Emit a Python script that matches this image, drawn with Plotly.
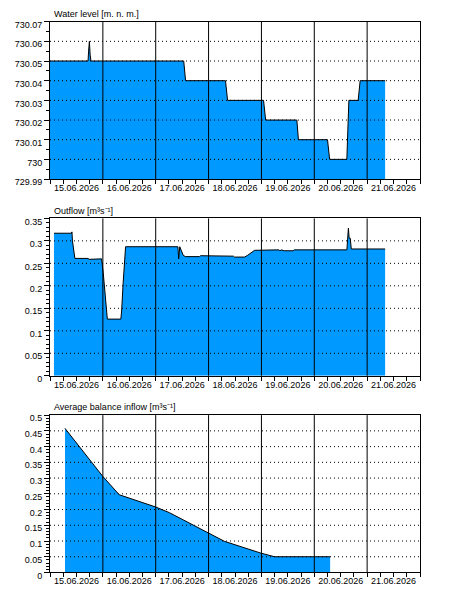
import plotly.graph_objects as go

# ---------------- data ----------------
wl_time = ["2026-06-15 00:00", "2026-06-15 17:17", "2026-06-15 17:31", "2026-06-15 17:53",
           "2026-06-15 18:14", "2026-06-15 18:36", "2026-06-17 12:43", "2026-06-17 13:05",
           "2026-06-17 13:34", "2026-06-18 07:41", "2026-06-18 08:38", "2026-06-19 00:58",
           "2026-06-19 01:55", "2026-06-19 16:05", "2026-06-19 16:48", "2026-06-20 06:00",
           "2026-06-20 06:58", "2026-06-20 14:47", "2026-06-20 15:06", "2026-06-20 15:42",
           "2026-06-20 19:55", "2026-06-20 20:17", "2026-06-20 20:50", "2026-06-21 08:10"]
wl_vals = [730.05, 730.05, 730.055, 730.06, 730.053, 730.05, 730.05, 730.045,
           730.04, 730.04, 730.03, 730.03, 730.02, 730.02, 730.01, 730.01,
           730.00, 730.00, 730.015, 730.03, 730.03, 730.035, 730.04, 730.04]

out_time = ["2026-06-15 01:48", "2026-06-15 09:43", "2026-06-15 09:58", "2026-06-15 10:12",
            "2026-06-15 11:17", "2026-06-15 17:17", "2026-06-15 17:46", "2026-06-15 19:12",
            "2026-06-15 19:41", "2026-06-15 23:24", "2026-06-16 00:09", "2026-06-16 00:50",
            "2026-06-16 01:34", "2026-06-16 02:02", "2026-06-16 08:10", "2026-06-16 08:31",
            "2026-06-16 09:14", "2026-06-16 09:58", "2026-06-16 10:19", "2026-06-17 10:05",
            "2026-06-17 10:26", "2026-06-17 10:55", "2026-06-17 11:31", "2026-06-17 12:29",
            "2026-06-17 13:26", "2026-06-17 19:55", "2026-06-17 20:24", "2026-06-18 11:17",
            "2026-06-18 11:46", "2026-06-18 16:19", "2026-06-18 17:46", "2026-06-18 20:53",
            "2026-06-19 07:55", "2026-06-19 08:24", "2026-06-19 09:07", "2026-06-19 10:19",
            "2026-06-19 14:24", "2026-06-19 14:53", "2026-06-20 14:48", "2026-06-20 15:07",
            "2026-06-20 15:29", "2026-06-20 15:50", "2026-06-20 16:19", "2026-06-20 16:48",
            "2026-06-21 08:10"]
out_vals = [0.317, 0.317, 0.320, 0.300, 0.261, 0.261, 0.259, 0.259,
            0.260, 0.260, 0.230, 0.186, 0.139, 0.126, 0.126, 0.144,
            0.208, 0.284, 0.287, 0.287, 0.260, 0.287, 0.280, 0.268,
            0.265, 0.265, 0.267, 0.266, 0.264, 0.264, 0.268, 0.279,
            0.280, 0.278, 0.280, 0.278, 0.278, 0.280, 0.280, 0.306,
            0.328, 0.306, 0.306, 0.282, 0.282]

inf_time = ["2026-06-15 06:48", "2026-06-16 00:00", "2026-06-16 07:26", "2026-06-17 00:00",
            "2026-06-17 06:14", "2026-06-18 00:00", "2026-06-18 07:12", "2026-06-18 23:46",
            "2026-06-19 06:00", "2026-06-20 07:12"]
inf_vals = [0.458, 0.305, 0.247, 0.208, 0.190, 0.125, 0.099, 0.0615, 0.050, 0.050]

day_bounds = ["2026-06-16", "2026-06-17", "2026-06-18", "2026-06-19", "2026-06-20", "2026-06-21"]
day_noons = ["2026-06-15 12:00", "2026-06-16 12:00", "2026-06-17 12:00", "2026-06-18 12:00",
             "2026-06-19 12:00", "2026-06-20 12:00", "2026-06-21 12:00"]
day_labels = ["15.06.2026", "16.06.2026", "17.06.2026", "18.06.2026",
              "19.06.2026", "20.06.2026", "21.06.2026"]
x_range = ["2026-06-15 00:00", "2026-06-22 00:00"]

wl_ticks = [729.99, 730.0, 730.01, 730.02, 730.03, 730.04, 730.05, 730.06, 730.07]
wl_ticktext = ["729.99", "730", "730.01", "730.02", "730.03", "730.04", "730.05", "730.06", "730.07"]
out_ticks = [0, 0.05, 0.1, 0.15, 0.2, 0.25, 0.3, 0.35]
out_ticktext = ["0", "0.05", "0.1", "0.15", "0.2", "0.25", "0.3", "0.35"]
inf_ticks = [0, 0.05, 0.1, 0.15, 0.2, 0.25, 0.3, 0.35, 0.4, 0.45, 0.5]
inf_ticktext = ["0", "0.05", "0.1", "0.15", "0.2", "0.25", "0.3", "0.35", "0.4", "0.45", "0.5"]

titles = ["Water level [m. n. m.]", "Outflow [m³s⁻¹]", "Average balance inflow [m³s⁻¹]"]

# ---------------- style ----------------
W, H = 450, 610
L, R = 50, 30
FILL = "#0099FF"
FONT = "Liberation Sans, Arial, sans-serif"
FS = 9
plots = [  # (top px, bottom px)
    (20, 180), (220, 380), (420, 580)
]

series = [(wl_time, wl_vals, wl_ticks, wl_ticktext, 0.005),
          (out_time, out_vals, out_ticks, out_ticktext, 0.01),
          (inf_time, inf_vals, inf_ticks, inf_ticktext, 0.01)]

fig = go.Figure()
layout = dict(width=W, height=H, margin=dict(l=L, r=R, t=0, b=0),
              paper_bgcolor="white", plot_bgcolor="white", showlegend=False,
              font=dict(family=FONT, size=FS, color="black"))

for i, (tx, vy, ticks, ttext, minor_dt) in enumerate(series):
    n = "" if i == 0 else str(i + 1)
    top, bot = plots[i]
    fig.add_trace(go.Scatter(x=tx, y=vy, mode="lines", fill="tozeroy",
                             fillcolor=FILL, line=dict(color="black", width=1),
                             xaxis="x" + n, yaxis="y" + n, hoverinfo="skip"))
    layout["xaxis" + n] = dict(
        domain=[0, 1], anchor="y" + n, type="date", range=x_range,
        tickmode="array", tickvals=day_noons, ticktext=day_labels, ticks="",
        showgrid=False, zeroline=False, showline=True, mirror=True,
        linecolor="black", linewidth=1, tickfont=dict(size=FS, color="black"),
        minor=dict(ticks="outside", ticklen=4, tickcolor="black",
                   tick0="2026-06-15", dtick=6 * 3600 * 1000, showgrid=False),
    )
    layout["yaxis" + n] = dict(
        domain=[(H - bot) / H, (H - top) / H], anchor="x" + n,
        range=[ticks[0], ticks[-1]], tickmode="array", tickvals=ticks, ticktext=ttext,
        ticks="outside", ticklen=5, tickcolor="black", showgrid=False, zeroline=False,
        showline=True, mirror=True, linecolor="black", linewidth=1,
        tickfont=dict(size=FS, color="black"), ticklabelshift=3,
        minor=dict(ticks="outside", ticklen=3, tickcolor="black",
                   tick0=ticks[0], dtick=minor_dt, showgrid=False),
    )
    # dotted horizontal grid, drawn above the fill
    for v in ticks[1:-1]:
        fig.add_shape(type="line", xref="x" + n + " domain", yref="y" + n,
                      x0=0, x1=1, y0=v, y1=v, layer="above",
                      line=dict(color="black", width=1, dash="1px,3px"))
    # solid vertical day lines, drawn above the fill
    for d in day_bounds:
        fig.add_shape(type="line", xref="x" + n, yref="y" + n + " domain",
                      x0=d, x1=d, y0=0, y1=1, layer="above",
                      line=dict(color="black", width=1))
    fig.add_annotation(text=titles[i], xref="paper", yref="paper",
                       x=2 / (W - L - R), y=(H - (top - 8)) / H,
                       xanchor="left", yanchor="middle", showarrow=False,
                       font=dict(size=FS, color="black", family=FONT))

fig.update_layout(**layout)
fig.write_html("out.html")
